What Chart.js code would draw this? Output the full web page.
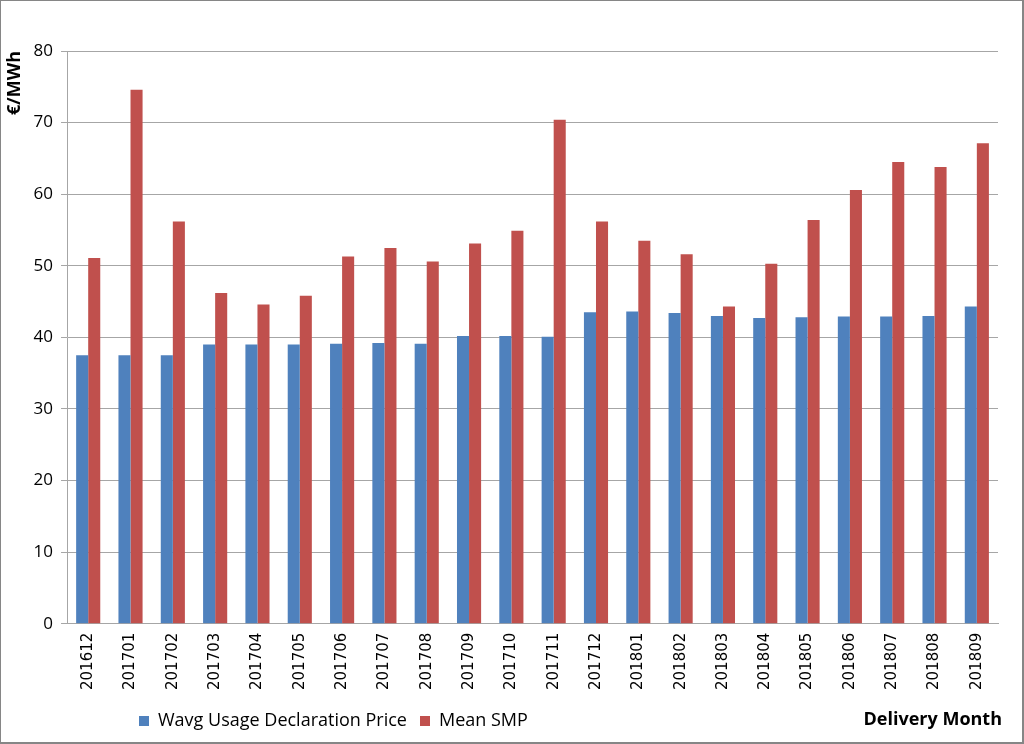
<!DOCTYPE html>
<html>
<head>
<meta charset="utf-8">
<script src="https://cdn.jsdelivr.net/npm/chart.js@4/dist/chart.umd.min.js"></script>
<style>
  body { margin: 0; background: #fff; }
  #wrap { width: 1024px; height: 744px; box-sizing: border-box; border: 1px solid #868686; border-right-width: 2px; border-bottom-width: 2px; }
</style>
</head>
<body>
<div id="wrap"><canvas id="chart" width="1021" height="741"></canvas></div>
<script>
const months = ['201612', '201701', '201702', '201703', '201704', '201705', '201706', '201707', '201708', '201709', '201710',
  '201711', '201712', '201801', '201802', '201803', '201804', '201805', '201806', '201807', '201808', '201809'];
const wavgPrice = [37.5, 37.5, 37.5, 39.0, 39.0, 39.0, 39.1, 39.2, 39.1, 40.2, 40.2,
  40.1, 43.5, 43.6, 43.4, 43.0, 42.7, 42.8, 42.9, 42.9, 43.0, 44.3];
const meanSmp = [51.1, 74.6, 56.2, 46.2, 44.6, 45.8, 51.3, 52.5, 50.6, 53.1, 54.9,
  70.4, 56.2, 53.5, 51.6, 44.3, 50.3, 56.4, 60.6, 64.5, 63.8, 67.1];

const gridGrey = '#a6a6a6';

// "Delivery Month" sits on the legend line, bottom right
const xTitlePlugin = {
  id: 'xTitle',
  afterLayout(chart) {
    // push the legend right so it starts where the reference does
    chart.legend.left += 122;
    chart.legend.right += 122;
  },
  afterDraw(chart) {
    const ctx = chart.ctx;
    const lg = chart.legend;
    ctx.save();
    ctx.font = 'bold 18px "Open Sans"';
    ctx.fillStyle = '#000';
    ctx.textAlign = 'right';
    ctx.textBaseline = 'middle';
    ctx.fillText('Delivery Month', chart.width - 20, lg.top + lg.height / 2);
    ctx.restore();
  }
};

const chartElement = document.getElementById('chart');
const chart = new Chart(chartElement, {
  type: 'bar',
  data: {
    labels: months,
    datasets: [{
      label: 'Wavg Usage Declaration Price',
      data: wavgPrice,
      backgroundColor: '#4f81bd',
      categoryPercentage: 0.57,
      barPercentage: 1
    }, {
      label: 'Mean SMP',
      data: meanSmp,
      backgroundColor: '#c0504d',
      categoryPercentage: 0.57,
      barPercentage: 1
    }]
  },
  options: {
    responsive: false,
    animation: false,
    layout: { padding: { left: 3, right: 24, top: 50, bottom: 2 } },
    plugins: {
      tooltip: { enabled: false },
      legend: {
        position: 'bottom',
        align: 'start',
        labels: {
          boxWidth: 10,
          boxHeight: 10,
          padding: 13,
          color: '#000',
          font: { family: 'Open Sans', size: 18 }
        }
      }
    },
    scales: {
      x: {
        grid: { display: false, drawTicks: false },
        border: { color: gridGrey },
        ticks: {
          minRotation: 90,
          maxRotation: 90,
          padding: 9,
          color: '#000',
          font: { family: 'DejaVu Sans', size: 15 }
        }
      },
      y: {
        min: 0,
        max: 80,
        ticks: {
          stepSize: 10,
          padding: 8,
          color: '#000',
          font: { family: 'Open Sans', size: 17 }
        },
        grid: { color: gridGrey, tickLength: 6 },
        border: { color: gridGrey },
        title: {
          display: true,
          text: '€/MWh',
          align: 'end',
          color: '#000',
          padding: { top: 0, bottom: 0 },
          font: { family: 'Open Sans', size: 18, weight: 'bold' }
        }
      }
    }
  },
  plugins: [xTitlePlugin]
});
</script>
</body>
</html>
